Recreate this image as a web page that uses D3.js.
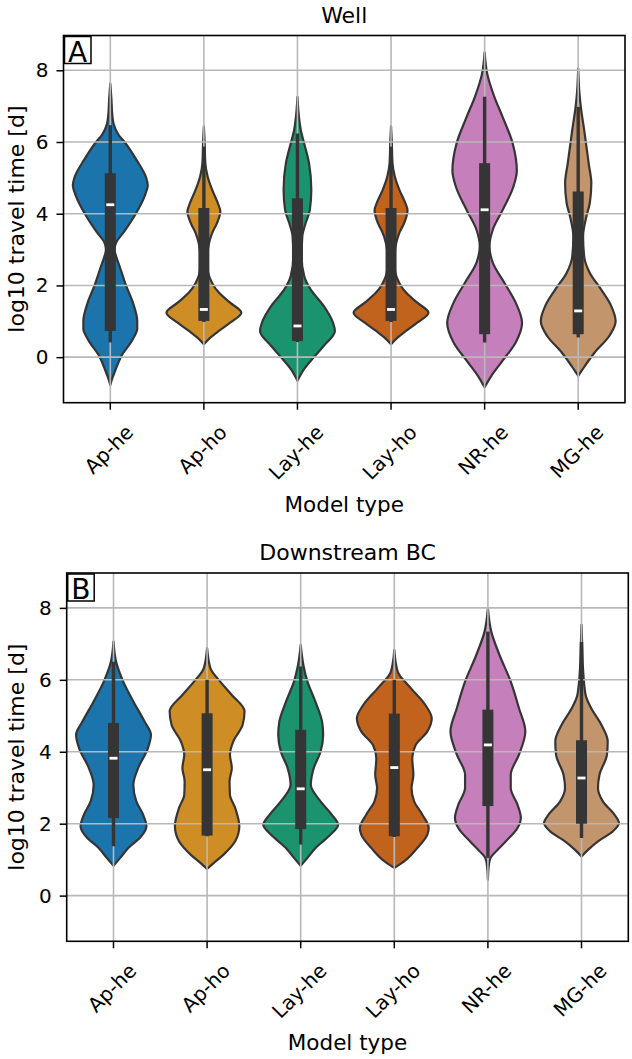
<!DOCTYPE html>
<html>
<head>
<meta charset="utf-8">
<script src="https://cdn.jsdelivr.net/npm/d3@7"></script>
<style>
	body { margin: 0; background: #fff; }
	text { font-family: "DejaVu Sans", sans-serif; fill: #000; }
</style>
</head>
<body>
<svg id="chart" width="632" height="1059"></svg>
<script>
	'use strict';
	var categories = ['Ap-he', 'Ap-ho', 'Lay-he', 'Lay-ho', 'NR-he', 'MG-he'];
	var colors = ['#1b74ab', '#cf8d26', '#1a936e', '#c2631d', '#c57fbb', '#c3956d'];
	var yTicks = [0, 2, 4, 6, 8];
	var yDomain = [-1.27, 8.97];

	// violin outlines: [log10 time, relative half width]
	var wellDensity = [
		[[7.63,0],[7.2,.03],[6.8,.05],[6.5,.09],[6.2,.22],[6.0,.38],[5.5,.7],[5.0,.96],[4.8,1.0],[4.5,.92],[4.0,.68],[3.5,.37],[3.2,.16],[3.0,.11],[2.8,.16],[2.5,.26],[2.0,.42],[1.5,.61],[1.0,.72],[0.8,.72],[0.5,.6],[0,.28],[-0.3,.16],[-0.6,.05],[-0.78,0]],
		[[6.44,0],[6.0,.02],[5.4,.04],[5.04,.1],[4.67,.22],[4.3,.37],[4.06,.44],[3.74,.35],[3.46,.22],[3.19,.14],[2.9,.1],[2.5,.1],[2.07,.22],[1.8,.4],[1.52,.7],[1.24,1.0],[0.96,.7],[0.73,.4],[0.55,.18],[0.36,0]],
		[[7.26,0],[6.7,.04],[6.33,.09],[5.96,.18],[5.4,.31],[4.67,.37],[4.1,.33],[3.74,.22],[3.37,.13],[2.8,.11],[2.26,.18],[1.89,.35],[1.43,.7],[0.96,.95],[0.73,1.0],[0.31,.7],[0,.44],[-0.33,.18],[-0.66,0]],
		[[6.44,0],[6.0,.02],[5.4,.04],[5.04,.1],[4.67,.22],[4.3,.38],[4.1,.44],[3.74,.35],[3.46,.22],[3.19,.14],[2.9,.1],[2.5,.1],[2.07,.22],[1.8,.4],[1.52,.7],[1.24,1.0],[0.96,.7],[0.73,.4],[0.55,.18],[0.36,0]],
		[[8.5,0],[7.9,.07],[7.26,.26],[6.7,.48],[5.96,.75],[5.2,.86],[4.76,.77],[4.1,.48],[3.56,.22],[3.09,.13],[2.63,.22],[2.07,.53],[1.52,.83],[0.96,1.0],[0.41,.83],[-0.15,.44],[-0.52,.18],[-0.84,0]],
		[[8.05,0],[7.4,.03],[6.98,.07],[6.33,.16],[5.4,.28],[4.85,.35],[4.3,.31],[3.93,.22],[3.37,.13],[2.8,.16],[2.35,.31],[1.89,.61],[1.43,.88],[1.0,1.0],[0.59,.83],[0.13,.44],[-0.24,.18],[-0.52,0]]
	];
	// [lower whisker, q1, median, q3, upper whisker]
	var wellBox = [
		[0.41, 0.73, 4.25, 5.13, 6.47],
		[0.98, 1.01, 1.33, 4.16, 5.87],
		[0.42, 0.45, 0.87, 4.43, 6.24],
		[0.98, 1.01, 1.33, 4.16, 5.87],
		[0.41, 0.64, 4.11, 5.41, 7.26],
		[0.55, 0.64, 1.29, 4.62, 6.98]
	];
	var downDensity = [
		[[7.06,0],[6.5,.07],[5.95,.26],[5.4,.53],[4.84,.83],[4.47,1.0],[4.1,.92],[3.55,.66],[3.08,.53],[2.62,.61],[2.25,.79],[1.93,.88],[1.6,.7],[1.32,.39],[1.05,.18],[0.83,0]],
		[[6.88,0],[6.32,.09],[5.95,.35],[5.58,.66],[5.13,1.0],[4.75,.95],[4.29,.7],[3.92,.61],[3.55,.66],[3.18,.6],[2.8,.61],[2.44,.75],[1.93,.86],[1.51,.75],[1.14,.44],[0.91,.18],[0.74,0]],
		[[6.97,0],[6.42,.07],[5.95,.18],[5.4,.39],[4.84,.57],[4.47,.6],[4.0,.53],[3.55,.35],[3.08,.27],[2.62,.53],[2.25,.83],[1.97,1.0],[1.69,.79],[1.32,.39],[1.05,.18],[0.83,0]],
		[[6.83,0],[6.23,.09],[5.77,.44],[5.3,.83],[4.93,1.0],[4.56,.88],[4.19,.57],[3.82,.48],[3.36,.51],[2.99,.46],[2.62,.53],[2.25,.75],[1.88,.92],[1.69,.88],[1.32,.61],[0.95,.26],[0.77,0]],
		[[7.99,0],[7.34,.09],[6.69,.31],[5.95,.61],[5.21,.83],[4.56,1.0],[3.92,.83],[3.36,.61],[2.99,.61],[2.53,.79],[2.16,.88],[1.88,.79],[1.51,.48],[1.23,.22],[1.05,.07],[0.8,.02],[0.44,0]],
		[[7.53,0],[6.9,.02],[6.32,.04],[5.58,.11],[5.21,.26],[4.75,.53],[4.29,.7],[3.92,.68],[3.36,.48],[2.99,.44],[2.62,.57],[2.25,.88],[2.02,1.0],[1.78,.83],[1.51,.44],[1.28,.18],[1.09,0]]
	];
	var downBox = [
		[1.37, 2.16, 3.82, 4.80, 6.50],
		[1.65, 1.67, 3.50, 5.07, 6.00],
		[1.42, 1.85, 2.97, 4.61, 6.37],
		[1.63, 1.65, 3.56, 5.06, 6.00],
		[1.05, 2.49, 4.19, 5.17, 7.34],
		[1.60, 2.00, 3.27, 4.32, 7.05]
	];

	var panels = [
		{title: 'Well', letter: 'A', density: wellDensity, box: wellBox,
			left: 63.5, right: 625, top: 35.5, bottom: 402.7},
		{title: 'Downstream BC', letter: 'B', density: downDensity, box: downBox,
			left: 66.7, right: 628.3, top: 573, bottom: 941.3}
	];

	var gray = '#353535';
	var gridColor = '#b8b8b8';
	var svg = d3.select('#chart');

	panels.forEach(drawPanel);

	function drawPanel(p) {
		var x = d3.scaleBand().domain(categories).range([p.left, p.right]);
		var y = d3.scaleLinear().domain(yDomain).range([p.bottom, p.top]);
		var halfW = x.bandwidth() * 0.4;
		var g = svg.append('g');
		var cx = function (c) { return x(c) + x.bandwidth() / 2; };

		// violin bodies
		categories.forEach(function (c, i) {
			var area = d3.area()
				.curve(d3.curveMonotoneY)
				.y(function (d) { return y(d[0]); })
				.x0(function (d) { return cx(c) - d[1] * halfW; })
				.x1(function (d) { return cx(c) + d[1] * halfW; });
			g.append('path')
				.datum(p.density[i])
				.attr('d', area)
				.attr('fill', colors[i])
				.attr('stroke', gray)
				.attr('stroke-width', 2.2)
				.attr('stroke-linejoin', 'round');
		});

		// grid sits above the fills, below the inner boxes
		g.append('g').selectAll('line').data(yTicks).enter().append('line')
			.attr('x1', p.left).attr('x2', p.right)
			.attr('y1', function (d) { return y(d); }).attr('y2', function (d) { return y(d); })
			.attr('stroke', gridColor).attr('stroke-width', 1.6);
		g.append('g').selectAll('line').data(categories).enter().append('line')
			.attr('x1', cx).attr('x2', cx)
			.attr('y1', p.top).attr('y2', p.bottom)
			.attr('stroke', gridColor).attr('stroke-width', 1.6);

		// inner box plots
		categories.forEach(function (c, i) {
			var b = p.box[i];
			g.append('line')
				.attr('x1', cx(c)).attr('x2', cx(c))
				.attr('y1', y(b[0])).attr('y2', y(b[4]))
				.attr('stroke', gray).attr('stroke-width', 3.4);
			g.append('rect')
				.attr('x', cx(c) - 5.5).attr('width', 11)
				.attr('y', y(b[3])).attr('height', y(b[1]) - y(b[3]))
				.attr('fill', gray);
			g.append('rect')
				.attr('x', cx(c) - 4).attr('width', 8)
				.attr('y', y(b[2]) - 1.4).attr('height', 2.8)
				.attr('fill', '#fff');
		});

		// axes
		var ya = g.append('g')
			.attr('transform', 'translate(' + p.left + ',0)')
			.call(d3.axisLeft(y).tickValues(yTicks).tickSize(7).tickPadding(8));
		ya.select('.domain').remove();
		ya.selectAll('.tick line').attr('stroke', '#000').attr('stroke-width', 1.5);
		ya.selectAll('.tick text').attr('font-size', 20).style('font-family', '"DejaVu Sans", sans-serif');

		var xa = g.append('g')
			.attr('transform', 'translate(0,' + p.bottom + ')')
			.call(d3.axisBottom(x).tickSize(7));
		xa.select('.domain').remove();
		xa.selectAll('.tick line').attr('stroke', '#000').attr('stroke-width', 1.5);
		xa.selectAll('.tick text')
			.attr('font-size', 20)
			.style('font-family', '"DejaVu Sans", sans-serif')
			.each(function () {
				var t = d3.select(this);
				var w = this.getComputedTextLength();
				var H = (w + 15) * Math.SQRT1_2;
				t.attr('y', null).attr('dy', '0.25em').attr('text-anchor', 'middle')
					.attr('transform', 'translate(0,' + (22 + H / 2) + ') rotate(-45)');
			});

		// frame
		g.append('rect')
			.attr('x', p.left).attr('y', p.top)
			.attr('width', p.right - p.left).attr('height', p.bottom - p.top)
			.attr('fill', 'none').attr('stroke', '#000').attr('stroke-width', 1.6);

		// panel letter
		g.append('rect')
			.attr('x', p.left + 1).attr('y', p.top + 1)
			.attr('width', 26.5).attr('height', 27)
			.attr('fill', '#fff').attr('stroke', '#000').attr('stroke-width', 1.5);
		g.append('text')
			.attr('x', p.left + 14.2).attr('y', p.top + 26)
			.attr('text-anchor', 'middle').attr('font-size', 28)
			.text(p.letter);

		// titles and labels
		var mid = (p.left + p.right) / 2;
		g.append('text')
			.attr('x', mid).attr('y', p.top - 13)
			.attr('text-anchor', 'middle').attr('font-size', 22)
			.text(p.title);
		g.append('text')
			.attr('x', mid).attr('y', p.bottom + 109)
			.attr('text-anchor', 'middle').attr('font-size', 21.5)
			.text('Model type');
		g.append('text')
			.attr('transform', 'translate(23.5,' + ((p.top + p.bottom) / 2) + ') rotate(-90)')
			.attr('text-anchor', 'middle').attr('font-size', 22)
			.text('log10 travel time [d]');
	}
</script>
</body>
</html>
